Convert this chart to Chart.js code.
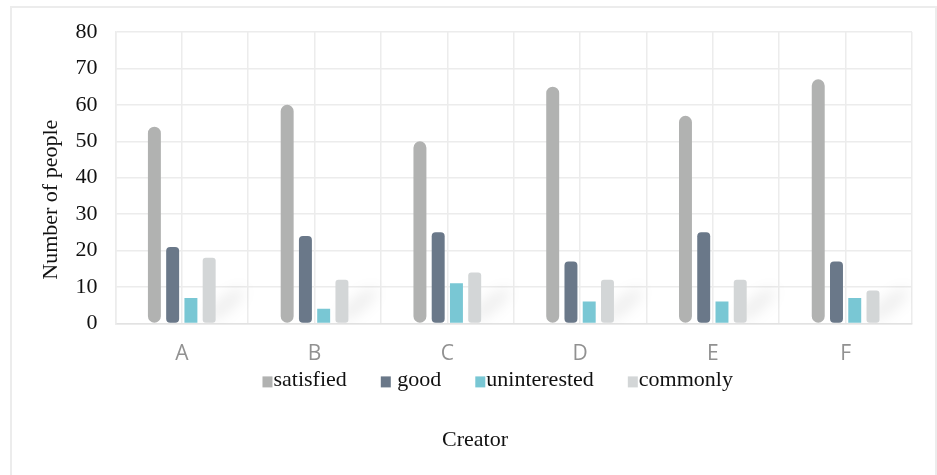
<!DOCTYPE html>
<html>
<head>
<meta charset="utf-8">
<script src="https://cdn.jsdelivr.net/npm/chart.js@4"></script>
<style>
  html, body { margin: 0; padding: 0; background: #fff; }
  body { width: 937px; height: 475px; overflow: hidden; position: relative; }
  #frame { position: absolute; left: 10px; top: 6px; width: 923px; height: 480px;
           border: 2px solid #ececec; border-bottom: none; background: #fff; }
  #wrap { position: absolute; left: 0; top: 0; width: 923px; height: 469px; }
</style>
</head>
<body>
<div id="frame"><div id="wrap"><canvas id="c"></canvas></div></div>
<script>
const categories = ['A', 'B', 'C', 'D', 'E', 'F'];
const seriesNames = ['satisfied', ' good', 'uninterested', 'commonly'];
const satisfied = [54, 60, 50, 65, 57, 67];
const good = [21, 24, 25, 17, 25, 17];
const uninterested = [7, 4, 11, 6, 6, 7];
const commonly = [18, 12, 14, 12, 12, 9];
const yTicks = [0, 10, 20, 30, 40, 50, 60, 70, 80];
const xTitle = 'Creator';
const yTitle = 'Number of people';

const colors = ['#b1b2b1', '#6a7889', '#79c7d4', '#d3d6d7'];
const radii = [8, 4, 0, 3];
const values = [satisfied, good, uninterested, commonly];

const serif = '"Liberation Serif", "Times New Roman", serif';
const FS = 22;

const datasets = seriesNames.map((name, i) => ({
  label: name,
  data: values[i],
  backgroundColor: colors[i],
  borderRadius: radii[i],
  borderSkipped: false,
  categoryPercentage: 0.55,
  barPercentage: 0.71
}));

// faint blurred shadow behind the last series' bars
const shadowPlugin = {
  id: 'barShadow',
  beforeDatasetsDraw(chart) {
    const ctx = chart.ctx;
    const meta = chart.getDatasetMeta(3);
    ctx.save();
    ctx.beginPath();
    ctx.rect(chart.chartArea.left, chart.chartArea.top, chart.chartArea.width, chart.chartArea.height);
    ctx.clip();
    meta.data.forEach(bar => {
      ctx.save();
      ctx.translate(bar.x + 16, bar.base - 18);
      ctx.rotate(-Math.PI / 4.5);
      ctx.filter = 'blur(7px)';
      ctx.fillStyle = 'rgba(0,0,0,0.07)';
      ctx.beginPath();
      ctx.ellipse(0, 0, 24, 7, 0, 0, Math.PI * 2);
      ctx.fill();
      ctx.restore();
    });
    ctx.restore();
  }
};

// legend drawn between tick labels and axis title; y title drawn slightly below centre
const legendPlugin = {
  id: 'customLegend',
  afterDraw(chart) {
    const ctx = chart.ctx;
    const ds = chart.data.datasets;
    const box = 10, gap = 1, spacing = 34;
    ctx.save();
    ctx.font = FS + 'px ' + serif;
    ctx.textBaseline = 'middle';
    const widths = ds.map(d => box + gap + ctx.measureText(d.label).width);
    const total = widths.reduce((a, b) => a + b, 0) + spacing * (ds.length - 1);
    const cx = (chart.chartArea.left + chart.chartArea.right) / 2 - 16;
    let x = cx - total / 2;
    const y = chart.chartArea.bottom + 57;
    ds.forEach((d, i) => {
      ctx.fillStyle = d.backgroundColor;
      ctx.fillRect(x, y - 4, box, 11);
      ctx.fillStyle = '#111';
      ctx.fillText(d.label, x + box + gap, y);
      x += widths[i] + spacing;
    });
    // y axis title
    const ys = chart.scales.y;
    ctx.translate(ys.left + FS * 0.6, (chart.chartArea.top + chart.chartArea.bottom) / 2 + 22);
    ctx.rotate(-Math.PI / 2);
    ctx.textAlign = 'center';
    ctx.fillStyle = '#111';
    ctx.fillText(yTitle, 0, 0);
    ctx.restore();
  }
};

new Chart(document.getElementById('c'), {
  type: 'bar',
  data: { labels: categories, datasets },
  plugins: [shadowPlugin, legendPlugin],
  options: {
    responsive: true,
    maintainAspectRatio: false,
    animation: false,
    layout: { padding: { left: 26, right: 23, top: 24, bottom: 24 } },
    plugins: {
      legend: { display: false },
      title: {
        display: true,
        position: 'bottom',
        text: xTitle,
        font: { family: serif, size: FS, weight: 'normal' },
        color: '#111',
        padding: { top: 42, bottom: 0 }
      },
      tooltip: { enabled: false }
    },
    scales: {
      x: {
        offset: true,
        grid: { color: '#ececec', lineWidth: 1.5, offset: true, drawTicks: false },
        border: { color: '#e2e2e2', width: 1.5 },
        ticks: {
          font: { family: '"Open Sans", "DejaVu Sans", sans-serif', size: 21 },
          color: '#919191',
          padding: 18
        }
      },
      x2: {
        type: 'category',
        labels: categories,
        offset: true,
        position: 'top',
        afterFit: (s) => { s.height = 0; },
        grid: { color: '#ececec', lineWidth: 1.5, offset: false, drawTicks: false },
        border: { display: false },
        ticks: { display: false }
      },
      y: {
        min: 0,
        max: 80,
        afterBuildTicks: (axis) => { axis.ticks = yTicks.map(v => ({ value: v })); },
        afterFit: (s) => { s.paddingTop = 0; s.paddingBottom = 0; },
        grid: { color: '#ececec', lineWidth: 1.5, drawTicks: false },
        border: { color: '#ececec', width: 1.5 },
        ticks: {
          font: { family: serif, size: FS },
          color: '#111',
          padding: 18
        },
        title: {
          display: true,
          text: yTitle,
          font: { family: serif, size: FS },
          color: 'rgba(0,0,0,0)',
          padding: { top: 0, bottom: -7 }
        }
      }
    }
  }
});
</script>
</body>
</html>
